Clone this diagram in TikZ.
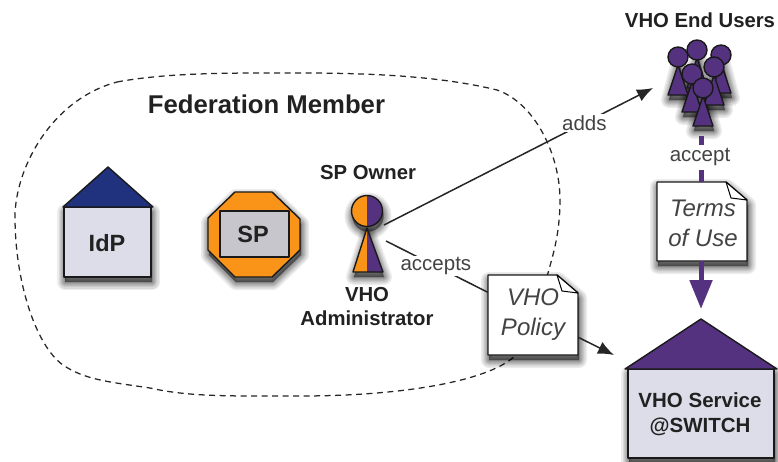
\documentclass[tikz,border=0pt]{standalone}
\usepackage{fontspec}
\setmainfont{Liberation Sans}
\usetikzlibrary{arrows.meta}
\definecolor{vpurple}{RGB}{84,50,128}
\definecolor{vorange}{RGB}{250,148,25}
\definecolor{vnavy}{RGB}{32,50,125}
\definecolor{vbody}{RGB}{221,221,234}
\definecolor{vgrey}{RGB}{198,198,204}
\definecolor{vtext}{gray}{0.13}
\tikzset{
 x=1pt,y=-1pt,
 outl/.style={draw=black!90,line width=1.4pt,line join=round},
 lab/.style={font=\fontsize{20.5}{24}\selectfont,text=vtext!85!white,inner sep=1.5pt,fill=white,align=center},
 blab/.style={font=\fontsize{20.3}{24}\selectfont\bfseries,text=vtext,inner sep=0pt,align=center},
 hlab/.style={font=\fontsize{23.5}{26}\selectfont\bfseries,text=vtext,inner sep=0pt},
 titlelab/.style={font=\fontsize{25.7}{28}\selectfont\bfseries,text=vtext,inner sep=0pt},
 doclab/.style={font=\fontsize{24}{30}\selectfont\itshape,text=vtext!85!white,inner sep=0pt,align=center,minimum width=90pt,minimum height=80pt},
 conn/.style={draw=black!85,line width=1.5pt},
 tip/.style={-{Latex[length=16pt,width=13pt]}},
}
\newcommand{\softshadow}[1]{\foreach \w in {16,13,10,8,6,4,2,0.5}{\fill[black,opacity=.075,shift={(1,5)},line join=round,draw=black,draw opacity=.075,line width=\w pt] #1;}}
\newcommand{\person}[2]{%
 \draw[outl,fill=vpurple] (#1-10,#2+38) -- (#1,#2+8) -- (#1+10,#2+38) -- cycle;
 \draw[outl,fill=vpurple] (#1,#2) circle (10);
}
\newcommand{\personshadow}[2]{\softshadow{(#1-10,#2+38) -- (#1,#2) -- (#1+10,#2+38) -- cycle}}
\newcommand{\docshape}[4]{%
 \softshadow{(#1,#2) -- (#3-21,#2) -- (#3,#2+18) -- (#3,#4) -- (#1,#4) -- cycle}
 \draw[outl,fill=white] (#1,#2) -- (#3-21,#2) -- (#3,#2+18) -- (#3,#4) -- (#1,#4) -- cycle;
 \draw[line width=1pt,line join=round,fill=white] (#3-21,#2) -- (#3-16,#2+16) -- (#3,#2+18) -- cycle;
}
\begin{document}
\begin{tikzpicture}
\useasboundingbox (0,0) rectangle (778,461);
\fill[white] (0,0) rectangle (778,461);
% Federation outline
\draw[line width=1.25pt,dash pattern=on 6pt off 4.5pt,black!85] (117,82)
 .. controls (170,72) and (240,73) .. (300,73)
 .. controls (370,73) and (440,76) .. (497,90)
 .. controls (535,103) and (560,155) .. (560,200)
 .. controls (560,235) and (552,258) .. (548,273)
 .. controls (535,320) and (530,345) .. (510,360)
 .. controls (480,382) and (400,396) .. (300,396)
 .. controls (230,396) and (190,397) .. (150,388)
 .. controls (110,382) and (85,380) .. (63,365)
 .. controls (35,345) and (15,280) .. (15,217)
 .. controls (15,170) and (50,100) .. (117,82) -- cycle;
\node[titlelab] (fed) at (266.5,104) {Federation Member};
% IdP
\softshadow{(64,207) rectangle (151,277)}
\draw[outl,fill=vbody] (64,207) rectangle (151,277);
\draw[outl,fill=vnavy] (63,207) -- (108,167) -- (153,207) -- cycle;
\node[hlab] (idp) at (107,243) {IdP};
% SP
\softshadow{(235,192) -- (272,192) -- (300,219) -- (300,250) -- (272,277) -- (235,277) -- (208,250) -- (208,218) -- cycle}
\draw[outl,fill=vorange] (235,192) -- (272,192) -- (300,219) -- (300,250) -- (272,277) -- (235,277) -- (208,250) -- (208,218) -- cycle;
\draw[outl,fill=vgrey] (220,211) rectangle (289,257);
\node[hlab] (sp) at (253,234) {SP};
% SP owner
\softshadow{(367,211) circle (15.5)}
\softshadow{(353,272) -- (367,228) -- (383,272) -- cycle}
\fill[vorange] (353,272) -- (367,228) -- (367,272) -- cycle;
\fill[vpurple] (383,272) -- (367,228) -- (367,272) -- cycle;
\fill[vorange] (367,195.5) arc[start angle=-90,end angle=-270,radius=15.5];
\fill[vpurple] (367,195.5) arc[start angle=-90,end angle=90,radius=15.5];
\draw[outl] (353,272) -- (367,228) -- (383,272) -- cycle;
\draw[outl] (367,211) circle (15.5);
\coordinate (own1) at (384,225);
\coordinate (own2) at (386,241);
\node[blab] (spo) at (368,173) {SP Owner};
\node[blab] (adm) at (367,307) {VHO\\Administrator};
% users
\personshadow{678}{57}
\personshadow{721}{55}
\personshadow{697}{50}
\personshadow{692}{74}
\personshadow{714}{67}
\personshadow{703}{88}
\person{697}{50}
\person{721}{55}
\person{678}{57}
\person{714}{67}
\person{692}{74}
\person{703}{88}
\coordinate (usr) at (653,88);
\coordinate (usrb) at (701,136);
\node[blab] (eu) at (700,20) {VHO End Users};
% Service
\softshadow{(628,369) rectangle (774,458)}
\draw[outl,fill=vbody] (628,369) rectangle (774,458);
\draw[outl,fill=vpurple] (625,369) -- (701,319) -- (777,369) -- cycle;
\node[blab,font=\fontsize{20.5}{25}\selectfont\bfseries] (svc) at (700,414) {VHO Service\\@SWITCH};
\coordinate (svctip) at (614,355);
\coordinate (svctop) at (701,309);
% docs
\docshape{488}{275}{578}{355}
\node[doclab] (pol) at (533,315) {VHO\\Policy};
\docshape{657}{182}{747}{261}
\node[doclab,minimum height=79pt] (tou) at (703,223) {Terms\\of Use};
% connectors
\draw[conn,tip] (own1) -- node[lab,pos=0.745] (adds) {adds} (usr);
\draw[conn] (own2) -- node[lab,pos=0.49] (acc) {accepts} (pol);
\draw[conn,tip] (pol) -- (svctip);
\draw[vpurple,line width=5pt,dash pattern=on 9pt off 25pt on 12pt off 100pt] (usrb) -- (usrb |- 0,182);
\node[lab] (ac2) at (700,157) {accept};
\draw[vpurple,line width=5pt,-{Triangle[length=29pt,width=22pt]}] (svctop |- 0,261) -- (svctop);
\end{tikzpicture}
\end{document}
